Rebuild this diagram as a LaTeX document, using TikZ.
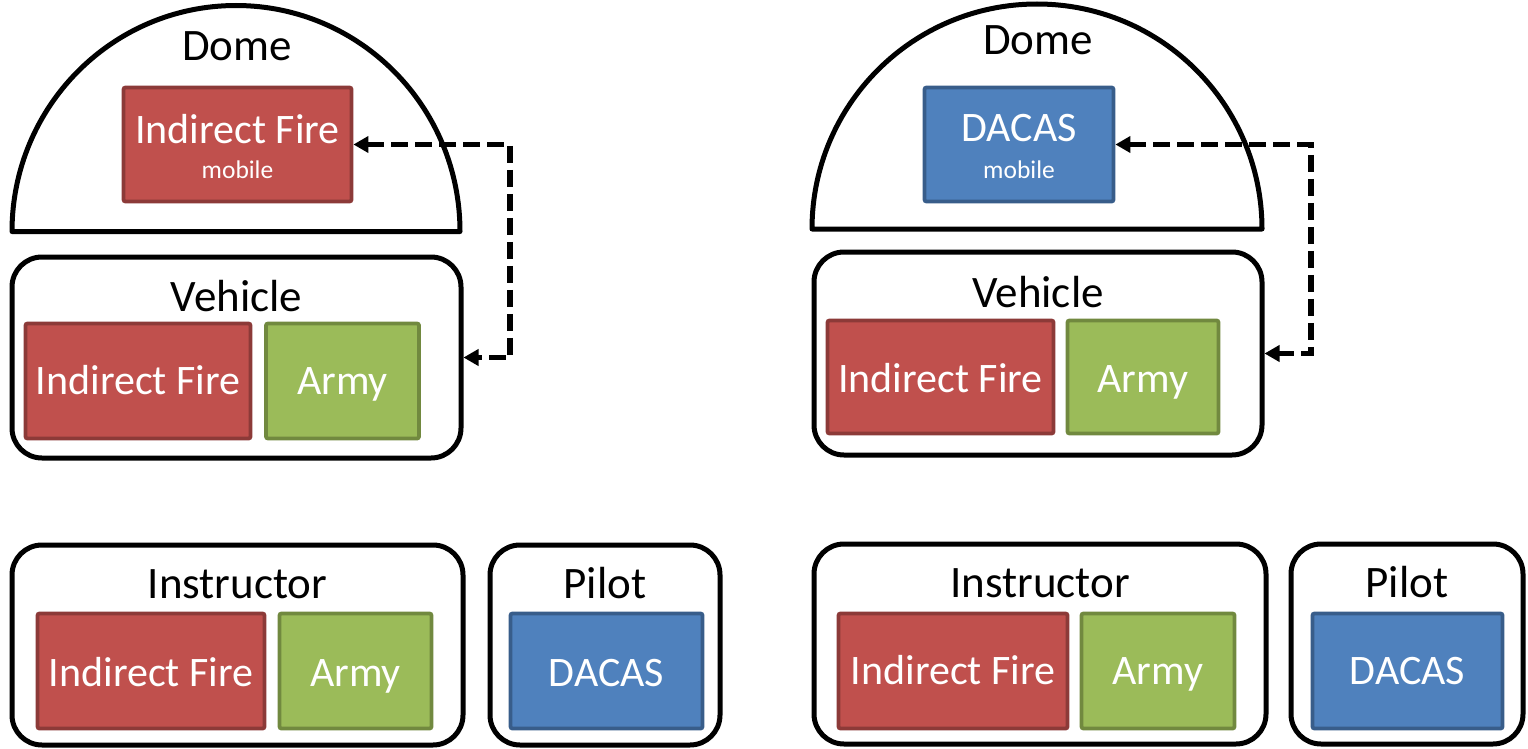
\documentclass[tikz,border=0pt]{standalone}
\usepackage{fontspec}
\setmainfont{Carlito}
\usetikzlibrary{arrows.meta}
\definecolor{redfill}{HTML}{C0504D}
\definecolor{redline}{HTML}{8C3A38}
\definecolor{greenfill}{HTML}{9BBB59}
\definecolor{greenline}{HTML}{71893F}
\definecolor{bluefill}{HTML}{4F81BD}
\definecolor{blueline}{HTML}{385D8A}
\begin{document}
\begin{tikzpicture}[x=1pt,y=-1pt,
  outerbox/.style={draw=black,line width=5pt,rounded corners=30pt,inner sep=0pt},
  inbox/.style={line width=3.8pt,rounded corners=2pt,inner sep=0pt},
  redbox/.style={inbox,fill=redfill,draw=redline},
  greenbox/.style={inbox,fill=greenfill,draw=greenline},
  bluebox/.style={inbox,fill=bluefill,draw=blueline},
  title/.style={anchor=base,inner sep=0pt,text=black,font=\fontsize{45}{50}\selectfont},
  boxtext/.style={anchor=base,inner sep=0pt,text=white,font=\fontsize{42}{48}\selectfont},
  smalltext/.style={anchor=base,inner sep=0pt,text=white,font=\fontsize{25.5}{30}\selectfont},
  dome/.style={draw=black,line width=5pt,line join=round},
  link/.style={draw=black,line width=5.5pt,dash pattern=on 17pt off 7pt,
    {Triangle[length=15pt,width=16pt]}-{Triangle[length=15pt,width=16pt]}}
]
\useasboundingbox (0,0) rectangle (1528,749);

% ---------------- left panel ----------------
\draw[dome] (12,231.5) arc[start angle=180,end angle=360,x radius=224,y radius=226] -- cycle;
\node[title] (domeL) at (237,61) {Dome};
\node[redbox,minimum width=228pt,minimum height=114pt] (ifmob) at (237.5,144.5) {};
\node[boxtext] (ifmobT) at (237.5,143) {Indirect Fire};
\node[smalltext] (ifmobS) at (237.5,178) {mobile};

\node[outerbox,minimum width=449pt,minimum height=201pt] (veh) at (236.5,357.5) {};
\node[title] (vehT) at (236.5,311) {Vehicle};
\node[redbox,minimum width=225pt,minimum height=115pt] (vIF) at (138,381) {};
\node[boxtext] (vIFT) at (138,394) {Indirect Fire};
\node[greenbox,minimum width=153pt,minimum height=115pt] (vArmy) at (342.5,381) {};
\node[boxtext] (vArmyT) at (342.5,394) {Army};

\coordinate (bendL) at (510,0);
\draw[link] (ifmob.east) -- (ifmob.east -| bendL) |- (veh.east);

\node[outerbox,minimum width=451pt,minimum height=200pt] (instr) at (237.5,645) {};
\node[title] (instrT) at (237.5,598) {Instructor};
\node[redbox,minimum width=227pt,minimum height=115pt] (iIF) at (151,671) {};
\node[boxtext] (iIFT) at (151,686) {Indirect Fire};
\node[greenbox,minimum width=152pt,minimum height=115pt] (iArmy) at (355.5,671) {};
\node[boxtext] (iArmyT) at (355.5,686) {Army};

\node[outerbox,minimum width=230pt,minimum height=200pt] (pilot) at (605,645) {};
\node[title] (pilotT) at (605,598) {Pilot};
\node[bluebox,minimum width=192pt,minimum height=115pt] (pD) at (606.5,671) {};
\node[boxtext] (pDT) at (606.5,686) {DACAS};

% ---------------- right panel ----------------
\draw[dome] (812,229) arc[start angle=180,end angle=360,x radius=225,y radius=225] -- cycle;
\node[title] (domeR) at (1038,55) {Dome};
\node[bluebox,minimum width=189pt,minimum height=114pt] (dacmob) at (1019,144.5) {};
\node[boxtext] (dacmobT) at (1019,142) {DACAS};
\node[smalltext] (dacmobS) at (1019,178) {mobile};

\node[outerbox,minimum width=448pt,minimum height=203pt] (veh2) at (1038,353.5) {};
\node[title] (veh2T) at (1038,307) {Vehicle};
\node[redbox,minimum width=226pt,minimum height=113pt] (v2IF) at (940.5,377) {};
\node[boxtext] (v2IFT) at (940.5,392) {Indirect Fire};
\node[greenbox,minimum width=151pt,minimum height=113pt] (v2Army) at (1143,377) {};
\node[boxtext] (v2ArmyT) at (1143,392) {Army};

\coordinate (bendR) at (1311,0);
\draw[link] (dacmob.east) -- (dacmob.east -| bendR) |- (veh2.east);

\node[outerbox,minimum width=452pt,minimum height=200pt] (instr2) at (1040,644) {};
\node[title] (instr2T) at (1040,597) {Instructor};
\node[redbox,minimum width=229pt,minimum height=115pt] (i2IF) at (953,671) {};
\node[boxtext] (i2IFT) at (953,684) {Indirect Fire};
\node[greenbox,minimum width=153pt,minimum height=115pt] (i2Army) at (1158,671) {};
\node[boxtext] (i2ArmyT) at (1158,684) {Army};

\node[outerbox,minimum width=232pt,minimum height=200pt] (pilot2) at (1407,644) {};
\node[title] (pilot2T) at (1407,597) {Pilot};
\node[bluebox,minimum width=190pt,minimum height=115pt] (p2D) at (1407.5,671) {};
\node[boxtext] (p2DT) at (1407.5,684) {DACAS};
\end{tikzpicture}
\end{document}
